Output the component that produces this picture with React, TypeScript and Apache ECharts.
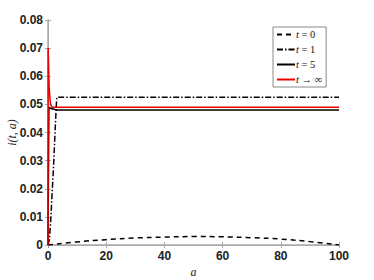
import React, { useEffect, useRef } from "react";
import * as echarts from "echarts";

const t0Data: [number, number][] = [
  [0, 0], [10, 0.0011], [20, 0.0019], [30, 0.0025], [40, 0.0028], [50, 0.003],
  [60, 0.0029], [70, 0.0026], [80, 0.0021], [90, 0.0012], [100, 0],
];
const t1Data: [number, number][] = [
  [0, 0], [0.5, 0.002], [1, 0.01], [1.5, 0.02], [2, 0.03], [2.5, 0.042], [3, 0.0525], [100, 0.0525],
];
const t5Data: [number, number][] = [
  [0, 0], [0.3, 0.049], [1, 0.0485], [3, 0.048], [100, 0.048],
];
const tInfData: [number, number][] = [
  [0, 0], [0.05, 0.07], [0.4, 0.056], [0.8, 0.0505], [1.3, 0.049], [100, 0.049],
];
const seriesNames = ["t = 0", "t = 1", "t = 5", "t \u2192 \u221e"];
const xTicks = [0, 20, 40, 60, 80, 100];

export default function App() {
  const ref = useRef<HTMLDivElement>(null);
  useEffect(() => {
    const chart = echarts.init(ref.current!, undefined, { renderer: "svg" });
    const axisColor = "#aaa";
    const labelStyle = { fontFamily: "Liberation Sans, Arial", fontWeight: "bold" as const, fontSize: 12, color: "#222" };
    chart.setOption({
      animation: false,
      grid: { left: 48, right: 35, top: 20, bottom: 35, containLabel: false, outerBoundsMode: "none" },
      legend: {
        data: seriesNames,
        orient: "vertical",
        left: 273,
        top: 27,
        itemWidth: 18,
        itemHeight: 8,
        itemGap: 4,
        padding: [2, 4, 2, 3],
        borderColor: "#888",
        borderWidth: 1,
        backgroundColor: "#fff",
        itemStyle: { opacity: 0 },
        formatter: (name: string) => "{i|t}" + name.slice(1),
        textStyle: {
          fontFamily: "Liberation Serif, serif",
          fontSize: 10.5,
          color: "#111",
          padding: [0, 0, 0, -4],
          rich: { i: { fontStyle: "italic", fontFamily: "Liberation Serif, serif", fontSize: 10.5 } },
        },
      },
      xAxis: [
        {
          type: "value", min: xTicks[0], max: xTicks[xTicks.length - 1], interval: 20,
          name: "a", nameLocation: "middle", nameGap: 21, nameMoveOverlap: false,
          nameTextStyle: { fontFamily: "Liberation Serif, serif", fontStyle: "italic", fontSize: 12, color: "#222" },
          axisLine: { lineStyle: { color: axisColor, width: 1.5 } },
          axisTick: { inside: true, length: 3, lineStyle: { color: axisColor } },
          axisLabel: { ...labelStyle, margin: 5 },
          splitLine: { show: false },
        },
        {
          type: "value", position: "top", min: 0, max: 100, interval: 20,
          axisLine: { show: true, lineStyle: { color: axisColor } },
          axisTick: { inside: true, length: 3, lineStyle: { color: axisColor } },
          axisLabel: { show: false }, splitLine: { show: false },
        },
      ],
      yAxis: [
        {
          type: "value", min: 0, max: 0.08, interval: 0.01,
          name: "i(t, a)", nameLocation: "middle", nameGap: 30, nameRotate: 90, nameMoveOverlap: false,
          nameTextStyle: { fontFamily: "Liberation Serif, serif", fontStyle: "italic", fontSize: 12, color: "#222" },
          axisLine: { show: true, lineStyle: { color: axisColor, width: 1.5 } },
          axisTick: { inside: true, length: 3, lineStyle: { color: axisColor } },
          axisLabel: { ...labelStyle, margin: 5, formatter: (v: number) => (v === 0 ? "0" : v.toFixed(2)) },
          splitLine: { show: false },
        },
        {
          type: "value", position: "right", min: 0, max: 0.08, interval: 0.01,
          axisLine: { show: true, lineStyle: { color: axisColor } },
          axisTick: { inside: true, length: 3, lineStyle: { color: axisColor } },
          axisLabel: { show: false }, splitLine: { show: false },
        },
      ],
      series: [
        { name: seriesNames[0], type: "line", data: t0Data, symbol: "none", smooth: true, lineStyle: { color: "#000", width: 1.5, type: [5, 4] }, itemStyle: { color: "#000" } },
        { name: seriesNames[1], type: "line", data: t1Data, symbol: "none", lineStyle: { color: "#000", width: 1.5, type: [6, 2, 1.5, 2] }, itemStyle: { color: "#000" } },
        { name: seriesNames[2], type: "line", data: t5Data, symbol: "none", lineStyle: { color: "#000", width: 1.5 }, itemStyle: { color: "#000" } },
        { name: seriesNames[3], type: "line", data: tInfData, symbol: "none", lineStyle: { color: "#e00", width: 1.5 }, itemStyle: { color: "#e00" } },
      ],
    });
    return () => chart.dispose();
  }, []);
  return <div ref={ref} style={{ width: 374, height: 280, position: "absolute", left: 0, top: 0 }} />;
}
